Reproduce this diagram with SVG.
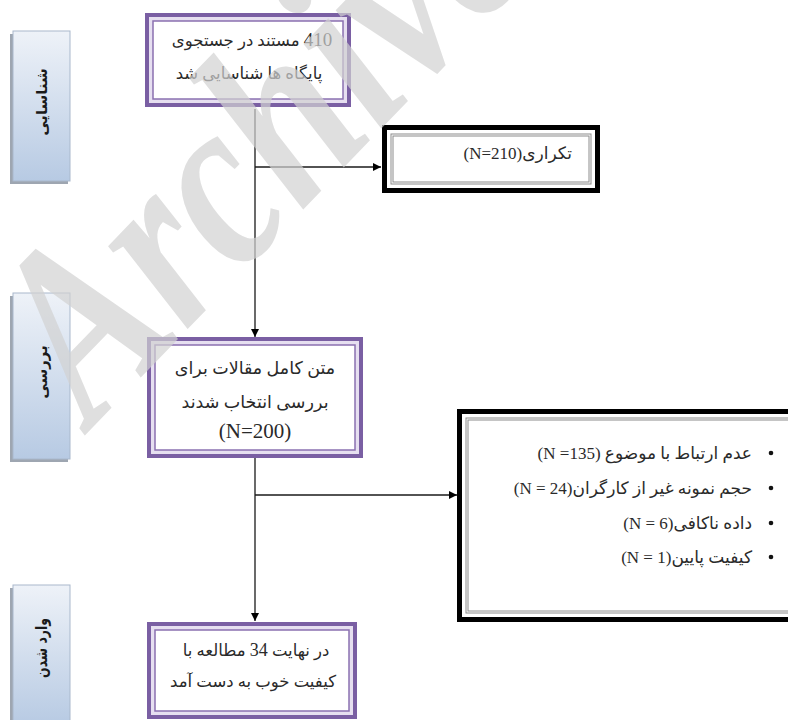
<svg xmlns="http://www.w3.org/2000/svg" width="788" height="720" viewBox="0 0 788 720">
<style>
.lbl{font-family:'DejaVu Sans','Noto Sans',sans-serif;font-weight:bold;font-size:15px;fill:#1a1a1a;}
.fa{font-family:'Liberation Serif','DejaVu Sans',serif;font-size:16.5px;fill:#2a2a2a;}
.fa17{font-size:17px;}
.conn{stroke:#1a1a1a;stroke-width:1.3;fill:none;}
.pOut{fill:#e6dff0;stroke:#7a5fa3;stroke-width:4;}
.pIn{fill:#ffffff;stroke:#8a70b0;stroke-width:1.5;}
.bOut{fill:#ffffff;stroke:#000;stroke-width:5;}
.bIn{fill:none;stroke:#8c8c8c;stroke-width:1;}
.shadow{fill:#9ea6b1;}
.side{fill:url(#sideGrad);stroke:#a9b8cc;stroke-width:1;}
</style>
<defs>
<linearGradient id="sideGrad" x1="0" y1="0" x2="0" y2="1">
<stop offset="0" stop-color="#eef2f8"/>
<stop offset="1" stop-color="#b7cae3"/>
</linearGradient>
<marker id="arr" viewBox="0 0 10 10" refX="10" refY="5" markerWidth="8" markerHeight="8" markerUnits="userSpaceOnUse" orient="auto">
<path d="M0,0 L10,5 L0,10 z" fill="#000"/>
</marker>
</defs>
<rect width="788" height="720" fill="#fff"/>

<g id="stage-identification">
<rect class="shadow" x="10" y="34" width="58" height="150"/>
<rect class="side" x="13" y="31" width="57" height="150"/>
<text class="lbl" transform="translate(47,102) rotate(-90)" text-anchor="middle" direction="rtl">شناسایی</text>
</g>
<g id="stage-screening">
<rect class="shadow" x="10" y="296" width="58" height="166"/>
<rect class="side" x="13" y="293" width="57" height="166"/>
<text class="lbl" transform="translate(47,372) rotate(-90)" text-anchor="middle" direction="rtl">بررسی</text>
</g>
<g id="stage-included">
<rect class="shadow" x="10" y="588" width="58" height="140"/>
<rect class="side" x="13" y="585" width="57" height="140"/>
<text class="lbl" transform="translate(47,648) rotate(-90) scale(0.78,1)" text-anchor="middle" direction="rtl" style="font-size:16px">وارد شدن</text>
</g>

<g id="connectors">
<line class="conn" x1="255" y1="109" x2="255" y2="337" marker-end="url(#arr)"/>
<line class="conn" x1="255" y1="167" x2="381" y2="167" marker-end="url(#arr)"/>
<line class="conn" x1="255" y1="458" x2="255" y2="621" marker-end="url(#arr)"/>
<line class="conn" x1="255" y1="495" x2="457" y2="495" marker-end="url(#arr)"/>
</g>

<g id="node-identified">
<rect class="pOut" x="147" y="15" width="202" height="90"/>
<rect class="pIn" x="153" y="21" width="190" height="78"/>
<text class="fa" x="252" y="46" text-anchor="middle" direction="rtl"><tspan style="font-size:19px">410</tspan> مستند در جستجوی</text>
<text class="fa" x="249" y="79" text-anchor="middle" direction="rtl">پایگاه ها شناسایی شد</text>
</g>

<g id="node-duplicates">
<rect class="bOut" x="384.5" y="127.5" width="213" height="63"/>
<rect class="bIn" x="391" y="134" width="200" height="50"/>
<rect class="bIn" x="393" y="136" width="196" height="46"/>
<text class="fa fa17" x="572" y="159" direction="rtl" text-anchor="start">تکراری(N=210)</text>
</g>

<g id="node-fulltext">
<rect class="pOut" x="149" y="339" width="212" height="117"/>
<rect class="pIn" x="155" y="345" width="200" height="105"/>
<text class="fa" x="255" y="374" text-anchor="middle" direction="rtl" style="font-size:17.5px">متن کامل مقالات برای</text>
<text class="fa" x="255" y="408" text-anchor="middle" direction="rtl" style="font-size:17.5px">بررسی انتخاب شدند</text>
<text class="fa" x="255" y="438" text-anchor="middle" style="font-size:21px">(N=200)</text>
</g>

<g id="node-excluded">
<rect class="bOut" x="459.5" y="411.5" width="340" height="208"/>
<rect class="bIn" x="466" y="418" width="340" height="195"/>
<rect class="bIn" x="468" y="420" width="340" height="191"/>
<g fill="#111">
<circle cx="771" cy="453" r="2.3"/>
<circle cx="771" cy="488" r="2.3"/>
<circle cx="771" cy="523" r="2.3"/>
<circle cx="771" cy="557" r="2.3"/>
</g>
<text class="fa fa17" x="752" y="459" direction="rtl" text-anchor="start">عدم ارتباط با موضوع  (N =135)</text>
<text class="fa fa17" x="752" y="494" direction="rtl" text-anchor="start">حجم نمونه غیر از کارگران(N = 24)</text>
<text class="fa fa17" x="752" y="529" direction="rtl" text-anchor="start">داده ناکافی(N = 6)</text>
<text class="fa fa17" x="752" y="563" direction="rtl" text-anchor="start">کیفیت پایین(N = 1)</text>
</g>

<g id="node-included">
<rect class="pOut" x="149" y="624" width="206" height="93"/>
<rect class="pIn" x="155" y="630" width="194" height="81"/>
<text class="fa" x="256" y="656" text-anchor="middle" direction="rtl">در نهایت <tspan style="font-size:18px">34</tspan> مطالعه با</text>
<text class="fa" x="253" y="687" text-anchor="middle" direction="rtl">کیفیت خوب به دست آمد</text>
</g>

<text x="0" y="0" transform="translate(92,428) rotate(-46) scale(0.8,1)" style="font-family:'Liberation Serif',serif;font-weight:bold;font-style:italic;font-size:250px;fill:#d2d2d2;opacity:0.7">Archive</text>
</svg>
